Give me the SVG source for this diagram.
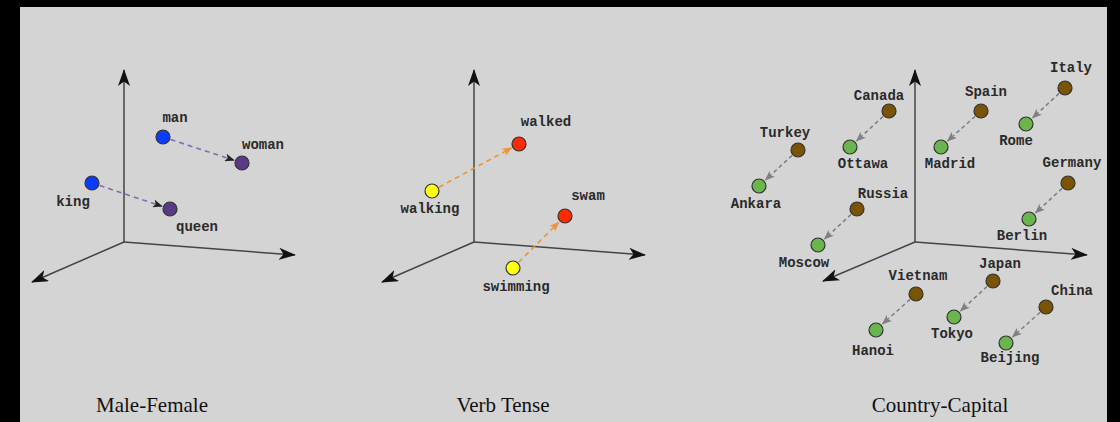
<svg xmlns="http://www.w3.org/2000/svg" width="1120" height="422" viewBox="0 0 1120 422">
<style>
.lbl{font-family:"Liberation Mono","Courier New",monospace;font-size:14px;font-weight:bold;fill:#2a2a2a;text-anchor:middle}
.ttl{font-family:"Liberation Serif","Times New Roman",serif;font-size:21px;fill:#111;text-anchor:middle}
.axis{stroke:#444;stroke-width:1.5;fill:none}
.pt{stroke:#333;stroke-width:1.2}
.blue{fill:#0a3cff}.purple{fill:#5b3a85}.red{fill:#ff2a00}.yellow{fill:#ffff10}.brown{fill:#7a5400}.green{fill:#6ab54e}
.dp{stroke:#8a68b4;stroke-width:1.6;stroke-dasharray:5,4;fill:none}
.do{stroke:#f0923a;stroke-width:1.6;stroke-dasharray:5,4;fill:none}
.dg{stroke:#808080;stroke-width:1.5;stroke-dasharray:4,3;fill:none}
</style>
<defs>
<marker id="ax" viewBox="0 0 17 12" refX="16" refY="6" markerWidth="17" markerHeight="12" markerUnits="userSpaceOnUse" orient="auto">
<path d="M0,0 L17,6 L0,12 L4.5,6 Z" fill="#111"/>
</marker>
<marker id="ap" viewBox="0 0 10 8" refX="9" refY="4" markerWidth="10" markerHeight="8" markerUnits="userSpaceOnUse" orient="auto">
<path d="M0,0 L10,4 L0,8 L2.5,4 Z" fill="#222"/>
</marker>
<marker id="ao" viewBox="0 0 10 8" refX="9" refY="4" markerWidth="10" markerHeight="8" markerUnits="userSpaceOnUse" orient="auto">
<path d="M0,0 L10,4 L0,8 L2.5,4 Z" fill="#f0923a"/>
</marker>
<marker id="ag" viewBox="0 0 10 8" refX="9" refY="4" markerWidth="10" markerHeight="8" markerUnits="userSpaceOnUse" orient="auto">
<path d="M0,0 L10,4 L0,8 L2.5,4 Z" fill="#808080"/>
</marker>
</defs>
<rect x="0" y="0" width="1120" height="422" fill="#000"/>
<rect x="20" y="7" width="1087" height="415" fill="#d4d4d4"/>

<g id="axes">
<line class="axis" x1="124" y1="242" x2="124" y2="70" marker-end="url(#ax)"/>
<line class="axis" x1="124" y1="242" x2="295" y2="255" marker-end="url(#ax)"/>
<line class="axis" x1="124" y1="242" x2="32" y2="282" marker-end="url(#ax)"/>
<line class="axis" x1="474" y1="242" x2="474" y2="70" marker-end="url(#ax)"/>
<line class="axis" x1="474" y1="242" x2="645" y2="255" marker-end="url(#ax)"/>
<line class="axis" x1="474" y1="242" x2="382" y2="282" marker-end="url(#ax)"/>
<line class="axis" x1="915" y1="242" x2="915" y2="70" marker-end="url(#ax)"/>
<line class="axis" x1="915" y1="242" x2="1087" y2="255" marker-end="url(#ax)"/>
<line class="axis" x1="915" y1="242" x2="823" y2="281" marker-end="url(#ax)"/>
</g>

<g id="connectors">
<line class="dp" x1="170.6" y1="139.5" x2="233.9" y2="160.3" marker-end="url(#ap)"/>
<line class="dp" x1="99.6" y1="185.5" x2="161.9" y2="206.3" marker-end="url(#ap)"/>
<line class="do" x1="439" y1="187.2" x2="511.5" y2="148" marker-end="url(#ao)"/>
<line class="do" x1="518.7" y1="262.3" x2="558.6" y2="222.4" marker-end="url(#ao)"/>
<line class="dg" x1="883.1" y1="116.4" x2="856.6" y2="140.9" marker-end="url(#ag)"/>
<line class="dg" x1="975.1" y1="116.4" x2="947.6" y2="140.9" marker-end="url(#ag)"/>
<line class="dg" x1="1059.1" y1="93.4" x2="1032.6" y2="117.9" marker-end="url(#ag)"/>
<line class="dg" x1="792.1" y1="155.4" x2="765.6" y2="179.9" marker-end="url(#ag)"/>
<line class="dg" x1="851.1" y1="214.4" x2="824.6" y2="238.9" marker-end="url(#ag)"/>
<line class="dg" x1="1062.1" y1="188.4" x2="1035.6" y2="212.9" marker-end="url(#ag)"/>
<line class="dg" x1="910.1" y1="299.4" x2="882.6" y2="323.9" marker-end="url(#ag)"/>
<line class="dg" x1="987.1" y1="286.4" x2="960.6" y2="310.9" marker-end="url(#ag)"/>
<line class="dg" x1="1040.1" y1="312.4" x2="1012.6" y2="336.9" marker-end="url(#ag)"/>
</g>

<g id="man"><circle class="pt blue" cx="163" cy="137" r="7"/><text class="lbl" x="175" y="122">man</text></g>
<g id="woman"><circle class="pt purple" cx="242" cy="163" r="7"/><text class="lbl" x="263" y="149">woman</text></g>
<g id="king"><circle class="pt blue" cx="92" cy="183" r="7"/><text class="lbl" x="73" y="206">king</text></g>
<g id="queen"><circle class="pt purple" cx="170" cy="209" r="7"/><text class="lbl" x="197" y="231">queen</text></g>

<g id="walked"><circle class="pt red" cx="519" cy="144" r="7"/><text class="lbl" x="546" y="126">walked</text></g>
<g id="swam"><circle class="pt red" cx="565" cy="216" r="7"/><text class="lbl" x="588" y="200">swam</text></g>
<g id="walking"><circle class="pt yellow" cx="432" cy="191" r="7"/><text class="lbl" x="430" y="213">walking</text></g>
<g id="swimming"><circle class="pt yellow" cx="513" cy="268" r="7"/><text class="lbl" x="516" y="291">swimming</text></g>

<g id="canada"><circle class="pt brown" cx="889" cy="111" r="7"/><text class="lbl" x="879" y="100">Canada</text></g>
<g id="ottawa"><circle class="pt green" cx="850" cy="147" r="7"/><text class="lbl" x="863" y="168">Ottawa</text></g>
<g id="spain"><circle class="pt brown" cx="981" cy="111" r="7"/><text class="lbl" x="986" y="96">Spain</text></g>
<g id="madrid"><circle class="pt green" cx="941" cy="147" r="7"/><text class="lbl" x="950" y="168">Madrid</text></g>
<g id="italy"><circle class="pt brown" cx="1065" cy="88" r="7"/><text class="lbl" x="1071" y="72">Italy</text></g>
<g id="rome"><circle class="pt green" cx="1026" cy="124" r="7"/><text class="lbl" x="1016" y="145">Rome</text></g>
<g id="turkey"><circle class="pt brown" cx="798" cy="150" r="7"/><text class="lbl" x="785" y="137">Turkey</text></g>
<g id="ankara"><circle class="pt green" cx="759" cy="186" r="7"/><text class="lbl" x="756" y="208">Ankara</text></g>
<g id="russia"><circle class="pt brown" cx="857" cy="209" r="7"/><text class="lbl" x="883" y="198">Russia</text></g>
<g id="moscow"><circle class="pt green" cx="818" cy="245" r="7"/><text class="lbl" x="804" y="267">Moscow</text></g>
<g id="germany"><circle class="pt brown" cx="1068" cy="183" r="7"/><text class="lbl" x="1072" y="167">Germany</text></g>
<g id="berlin"><circle class="pt green" cx="1029" cy="219" r="7"/><text class="lbl" x="1022" y="240">Berlin</text></g>
<g id="vietnam"><circle class="pt brown" cx="916" cy="294" r="7"/><text class="lbl" x="918" y="280">Vietnam</text></g>
<g id="hanoi"><circle class="pt green" cx="876" cy="330" r="7"/><text class="lbl" x="873" y="355">Hanoi</text></g>
<g id="japan"><circle class="pt brown" cx="993" cy="281" r="7"/><text class="lbl" x="1000" y="268">Japan</text></g>
<g id="tokyo"><circle class="pt green" cx="954" cy="317" r="7"/><text class="lbl" x="952" y="338">Tokyo</text></g>
<g id="china"><circle class="pt brown" cx="1046" cy="307" r="7"/><text class="lbl" x="1072" y="295">China</text></g>
<g id="beijing"><circle class="pt green" cx="1006" cy="343" r="7"/><text class="lbl" x="1010" y="362">Beijing</text></g>

<g id="titles">
<text class="ttl" x="152" y="412">Male-Female</text>
<text class="ttl" x="503" y="412">Verb Tense</text>
<text class="ttl" x="940" y="412">Country-Capital</text>
</g>
</svg>
